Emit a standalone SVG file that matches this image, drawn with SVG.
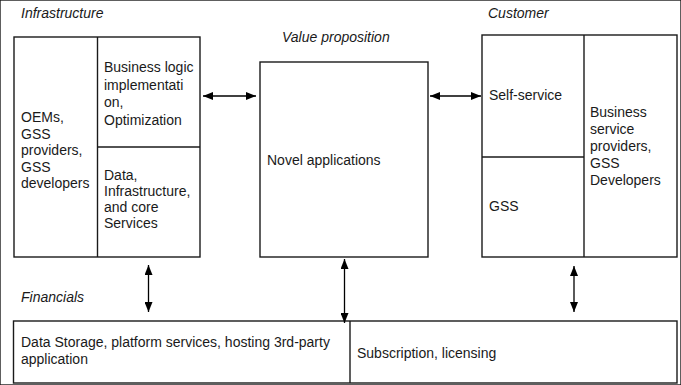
<svg xmlns="http://www.w3.org/2000/svg" width="681" height="385" viewBox="0 0 681 385">
<defs>
<marker id="ah" viewBox="0 0 10 8" refX="10" refY="4" markerWidth="10" markerHeight="8" markerUnits="userSpaceOnUse" orient="auto-start-reverse">
<path d="M0,0 L10,4 L0,8 Z" fill="#000"/>
</marker>
</defs>
<style>
rect, line.d { fill: #fff; stroke: #1a1a1a; stroke-width: 1.4; }
line.d { fill: none; }
text { font-family: "Liberation Sans", Arial, sans-serif; font-size: 14px; fill: #1a1a1a; }
text.h { font-style: italic; }
.conn line { stroke: #000; stroke-width: 1.3; marker-start: url(#ah); marker-end: url(#ah); }
</style>
<rect width="681" height="385" fill="#fff" stroke="none"/>

<text class="h" x="21" y="18">Infrastructure</text>
<text class="h" x="282" y="42">Value proposition</text>
<text class="h" x="488" y="18">Customer</text>
<text class="h" x="21" y="302">Financials</text>

<g id="infrastructure">
<rect x="14" y="37" width="186" height="220"/>
<line class="d" x1="97.5" y1="37" x2="97.5" y2="257"/>
<line class="d" x1="97.5" y1="147" x2="200" y2="147"/>
<text x="21" y="122">OEMs,</text>
<text x="21" y="138.5">GSS</text>
<text x="21" y="155">providers,</text>
<text x="21" y="171.5">GSS</text>
<text x="21" y="188">developers</text>
<text x="104" y="72">Business logic</text>
<text x="104" y="89.5">implementati</text>
<text x="104" y="107">on,</text>
<text x="104" y="124.5">Optimization</text>
<text x="104" y="180">Data,</text>
<text x="104" y="196">Infrastructure,</text>
<text x="104" y="212">and core</text>
<text x="104" y="228">Services</text>
</g>

<g id="value">
<rect x="260" y="62" width="168" height="195"/>
<text x="267" y="165">Novel applications</text>
</g>

<g id="customer">
<rect x="482" y="35" width="195" height="222"/>
<line class="d" x1="584" y1="35" x2="584" y2="257"/>
<line class="d" x1="482" y1="157" x2="584" y2="157"/>
<text x="489" y="100">Self-service</text>
<text x="489" y="211">GSS</text>
<text x="590" y="117">Business</text>
<text x="590" y="134">service</text>
<text x="590" y="151">providers,</text>
<text x="590" y="168">GSS</text>
<text x="590" y="185">Developers</text>
</g>

<g id="financials">
<rect x="13.5" y="321" width="663.5" height="62"/>
<line class="d" x1="350" y1="321" x2="350" y2="383"/>
<text x="21" y="347">Data Storage, platform services, hosting 3rd-party</text>
<text x="21" y="364">application</text>
<text x="357" y="358">Subscription, licensing</text>
</g>

<g class="conn" id="connectors">
<line x1="203" y1="96" x2="256" y2="96"/>
<line x1="430" y1="96" x2="481" y2="96"/>
<line x1="148.5" y1="265" x2="148.5" y2="312"/>
<line x1="344.5" y1="259" x2="344.5" y2="323"/>
<line x1="574" y1="266" x2="574" y2="312"/>
</g>
</svg>
